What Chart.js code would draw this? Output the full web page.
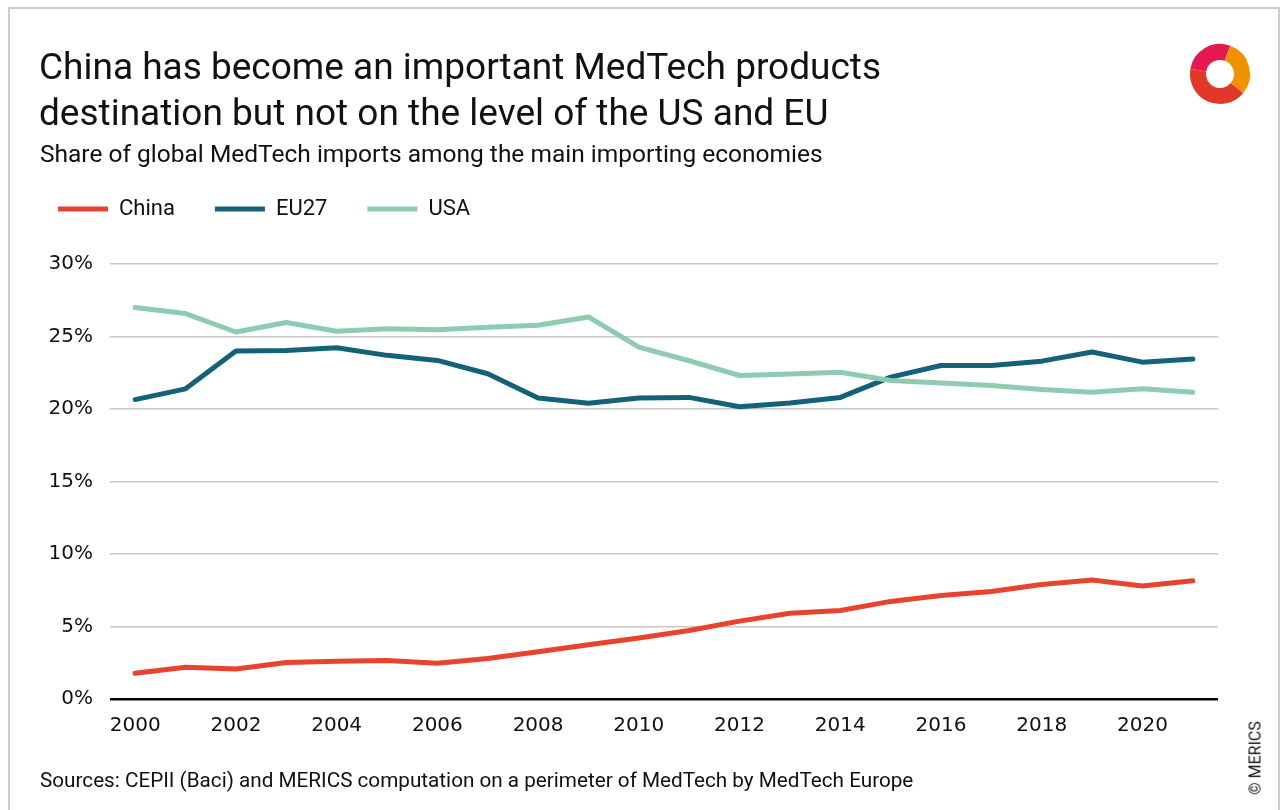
<!DOCTYPE html>
<html>
<head>
<meta charset="utf-8">
<script src="https://cdn.jsdelivr.net/npm/chart.js@4.4.1/dist/chart.umd.min.js"></script>
<style>
  body { margin: 0; background: #fff; font-family: Roboto, sans-serif; color: #111; }
  #wrap { position: relative; width: 1285px; height: 810px; overflow: hidden; }
  #frame { position: absolute; left: 8px; top: 7px; width: 1268px; height: 820px;
           border: 2px solid #cdcdcd; border-bottom: none; }
  #chart { position: absolute; left: 0; top: 0; }
  .txt { position: absolute; white-space: nowrap; }
  #title { left: 39px; top: 44px; font-size: 37px; line-height: 46px; }
  #subtitle { left: 40px; top: 140px; font-size: 24.5px; line-height: 28px; }
  #source { left: 40px; top: 768px; font-size: 20.7px; line-height: 24px; }
  #copy { left: 1255px; top: 758px; font-size: 16px; transform: translate(-50%, -50%) rotate(-90deg); }
  #logo { position: absolute; left: 1185px; top: 39px; }
</style>
</head>
<body>
<div id="wrap">
  <div id="frame"></div>
  <canvas id="chart" width="1285" height="810"></canvas>
  <div class="txt" id="title">China has become an important MedTech products<br>destination but not on the level of the US and EU</div>
  <div class="txt" id="subtitle">Share of global MedTech imports among the main importing economies</div>
  <div class="txt" id="source">Sources: CEPII (Baci) and MERICS computation on a perimeter of MedTech by MedTech Europe</div>
  <div class="txt" id="copy">© MERICS</div>
  <svg id="logo" width="70" height="70" viewBox="0 0 70 70">
    <path d="M13.3 31.2 A22 22 0 0 1 42.5 14.3" fill="none" stroke="#e3194f" stroke-width="16"/>
    <path d="M42.5 14.3 A22 22 0 0 1 51.9 49.1" fill="none" stroke="#f29100" stroke-width="16"/>
    <path d="M51.9 49.1 A22 22 0 0 1 13.3 31.2" fill="none" stroke="#e2382b" stroke-width="16"/>
  </svg>
</div>
<script>
const years = ['2000', '2001', '2002', '2003', '2004', '2005', '2006', '2007', '2008', '2009', '2010',
               '2011', '2012', '2013', '2014', '2015', '2016', '2017', '2018', '2019', '2020', '2021'];
const china = [1.77, 2.19, 2.07, 2.51, 2.6, 2.65, 2.47, 2.79, 3.26, 3.74, 4.2,
               4.72, 5.37, 5.92, 6.1, 6.73, 7.14, 7.42, 7.9, 8.2, 7.79, 8.16];
const eu27 = [20.65, 21.39, 24.0, 24.04, 24.23, 23.7, 23.35, 22.43, 20.76, 20.39, 20.76,
              20.8, 20.16, 20.42, 20.8, 22.2, 23.0, 23.0, 23.3, 23.93, 23.23, 23.44];
const usa = [27.0, 26.58, 25.31, 25.96, 25.36, 25.54, 25.47, 25.63, 25.77, 26.35, 24.27,
             23.33, 22.31, 22.42, 22.54, 21.96, 21.8, 21.62, 21.34, 21.15, 21.39, 21.15];
const yTicks = [0, 5, 10, 15, 20, 25, 30];

Chart.defaults.font.family = 'Roboto, sans-serif';
Chart.defaults.color = '#111';

function line(label, data, color, order) {
  return {
    label: label,
    data: data,
    borderColor: color,
    backgroundColor: color,
    borderWidth: 5,
    borderCapStyle: 'round',
    borderJoinStyle: 'round',
    pointRadius: 0,
    tension: 0,
    order: order
  };
}

// leave room between the legend and the plot
const legendGap = {
  id: 'legendGap',
  beforeLayout(chart) {
    const lg = chart.legend;
    if (lg && !lg._gapPatched) {
      const fit = lg.fit.bind(lg);
      lg.fit = function () { fit(); this.height += 34; };
      lg._gapPatched = true;
    }
  }
};

const tickFont = { family: '"DejaVu Sans", sans-serif', size: 20 };

new Chart(document.getElementById('chart'), {
  type: 'line',
  data: {
    labels: years,
    datasets: [
      line('China', china, '#e8432e', 2),
      line('EU27', eu27, '#13627a', 1),
      line('USA', usa, '#8ecbaf', 0)
    ]
  },
  plugins: [legendGap],
  options: {
    responsive: false,
    animation: false,
    layout: { padding: { left: 18, right: 67, top: 158, bottom: 65 } },
    plugins: {
      title: { display: false },
      tooltip: { enabled: false },
      legend: {
        position: 'top',
        align: 'start',
        labels: {
          usePointStyle: true,
          pointStyle: 'line',
          pointStyleWidth: 50,
          padding: 40,
          font: { size: 22 },
          color: '#111',
          sort: (a, b) => a.datasetIndex - b.datasetIndex
        }
      }
    },
    scales: {
      x: {
        offset: true,
        grid: { display: false },
        border: { display: false },
        ticks: {
          autoSkip: false,
          maxRotation: 0,
          padding: 7,
          font: tickFont,
          color: '#111',
          callback: (v, i) => (i % 2 === 0 ? years[i] : '')
        }
      },
      y: {
        min: 0,
        max: 30,
        afterFit: (scale) => { scale.width = 92; },
        afterBuildTicks: (scale) => { scale.ticks = yTicks.map(v => ({ value: v })); },
        border: { display: false },
        grid: {
          drawTicks: false,
          color: (c) => (c.tick && c.tick.value === 0 ? '#000' : '#c8c8c8'),
          lineWidth: (c) => (c.tick && c.tick.value === 0 ? 2.5 : 1.5)
        },
        ticks: {
          padding: 17,
          font: tickFont,
          color: '#111',
          callback: (v) => v + '%'
        }
      }
    }
  }
});
</script>
</body>
</html>
